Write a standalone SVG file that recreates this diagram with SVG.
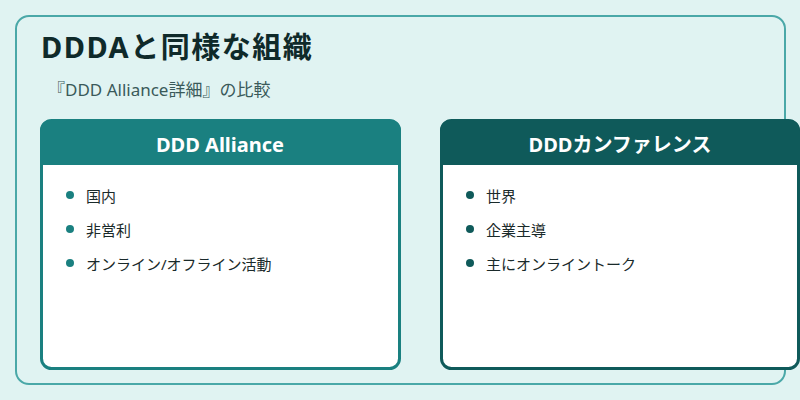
<svg xmlns="http://www.w3.org/2000/svg" width="800" height="400" viewBox="0 0 800 400">
<style>
text{font-family:"Noto Sans","Noto Sans CJK JP",sans-serif}
.item{font-size:15px;fill:#1a2a2a}
.hd{font-size:20px;font-weight:bold;fill:#fff}
</style>
<rect width="800" height="400" fill="#e0f3f2"/>
<rect x="16" y="16" width="769" height="368" rx="13" fill="#e0f3f2" stroke="#4aa8a8" stroke-width="2"/>
<text x="41" y="58" font-size="29" font-weight="bold" fill="#0f2a2a" letter-spacing="1.5">DDDAと同様な組織</text>
<text x="48" y="96" font-size="17" fill="#3a5a5a">『DDD Alliance詳細』の比較</text>
<g id="alliance">
<rect x="41.5" y="120.5" width="358" height="248" rx="10" fill="#fff" stroke="#1a8080" stroke-width="3"/>
<path d="M40 165 V131 a11 11 0 0 1 11 -11 H390 a11 11 0 0 1 11 11 V165 Z" fill="#1a8080"/>
<text x="220" y="152" class="hd" text-anchor="middle">DDD Alliance</text>
<circle cx="70" cy="195" r="4" fill="#1a8080"/><text x="86" y="202" class="item">国内</text>
<circle cx="70" cy="229" r="4" fill="#1a8080"/><text x="86" y="236" class="item">非営利</text>
<circle cx="70" cy="263" r="4" fill="#1a8080"/><text x="86" y="270" class="item">オンライン/オフライン活動</text>
</g>
<g id="conference">
<rect x="441.5" y="120.5" width="357" height="248" rx="10" fill="#fff" stroke="#0f5a5a" stroke-width="3"/>
<path d="M440 165 V131 a11 11 0 0 1 11 -11 H789 a11 11 0 0 1 11 11 V165 Z" fill="#0f5a5a"/>
<text x="620" y="152" class="hd" text-anchor="middle">DDDカンファレンス</text>
<circle cx="470" cy="195" r="4" fill="#0f5a5a"/><text x="486" y="202" class="item">世界</text>
<circle cx="470" cy="229" r="4" fill="#0f5a5a"/><text x="486" y="236" class="item">企業主導</text>
<circle cx="470" cy="263" r="4" fill="#0f5a5a"/><text x="486" y="270" class="item">主にオンライントーク</text>
</g>
<g id="connectors"/>
</svg>
